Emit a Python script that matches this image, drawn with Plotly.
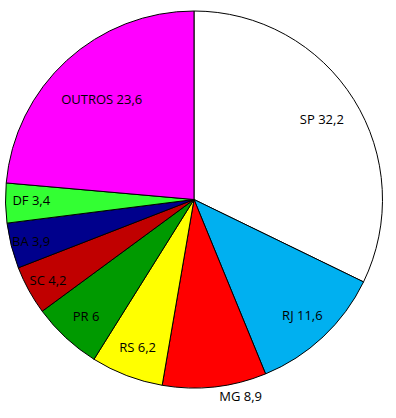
import plotly.graph_objects as go

states = ["SP", "RJ", "MG", "RS", "PR", "SC", "BA", "DF", "OUTROS"]
values = [32.2, 11.6, 8.9, 6.2, 6.0, 4.2, 3.9, 3.4, 23.6]
value_labels = ["32,2", "11,6", "8,9", "6,2", "6", "4,2", "3,9", "3,4", "23,6"]
colors = ["#FFFFFF", "#00B0F0", "#FF0000", "#FFFF00", "#009A00",
          "#C00000", "#00008C", "#33FF33", "#FF00FF"]

texts = [f"{s} {v}" for s, v in zip(states, value_labels)]

domain = dict(x=[5/396, 383/396], y=[1-388/418, 1-11/418])
font = dict(family="Open Sans, Liberation Sans, sans-serif", size=13, color="#000000")

# label placement style: hole of the text ring each label sits in (None = outside)
label_ring = {"SP": 0.6, "RJ": 0.68, "MG": None, "RS": 0.68, "PR": 0.68,
              "SC": 0.6, "BA": 0.6, "DF": 0.68, "OUTROS": 0.45}

common = dict(labels=states, values=values, sort=False, direction="clockwise",
              rotation=0, domain=domain, textfont=font, textinfo="text",
              insidetextorientation="horizontal", hoverinfo="label+value")

fig = go.Figure()
# colored pie (with the outside labels)
fig.add_trace(go.Pie(
    text=[t if label_ring[s] is None else "" for s, t in zip(states, texts)],
    textposition="outside",
    marker=dict(colors=colors, line=dict(color="#000000", width=1)),
    **common,
))
# transparent text-only rings
for hole in sorted({h for h in label_ring.values() if h is not None}):
    fig.add_trace(go.Pie(
        text=[t if label_ring[s] == hole else "" for s, t in zip(states, texts)],
        textposition="inside", hole=hole,
        marker=dict(colors=["rgba(0,0,0,0)"] * len(values), line=dict(width=0)),
        **common,
    ))

fig.update_layout(
    width=396, height=418,
    margin=dict(l=0, r=0, t=0, b=0),
    showlegend=False,
    paper_bgcolor="white",
    uniformtext=dict(minsize=13, mode="show"),
)

fig.write_html("out.html")
